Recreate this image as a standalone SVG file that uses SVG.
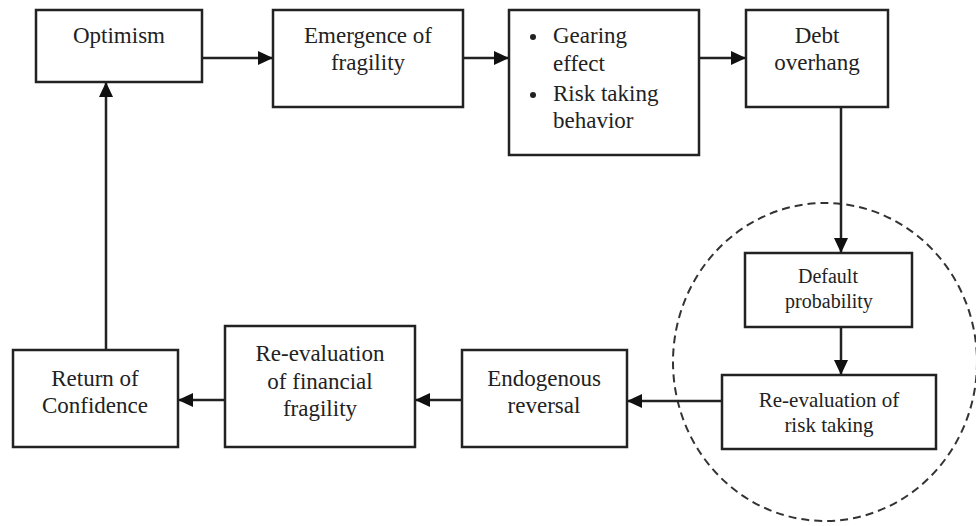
<svg xmlns="http://www.w3.org/2000/svg" width="976" height="526" viewBox="0 0 976 526">
<style>
  .box { fill: #fff; stroke: #222; stroke-width: 2.5; }
  .t { font-family: "Liberation Serif", "Times New Roman", serif; fill: #222; text-anchor: middle; font-size: 23px; }
  .ts { font-family: "Liberation Serif", "Times New Roman", serif; fill: #222; text-anchor: middle; font-size: 20px; }
  .tl { font-family: "Liberation Serif", "Times New Roman", serif; fill: #222; text-anchor: start; font-size: 23px; }
  .c { stroke: #222; stroke-width: 2.5; fill: none; marker-end: url(#ah); }
</style>
<defs>
  <marker id="ah" markerUnits="userSpaceOnUse" markerWidth="16" markerHeight="14" refX="15" refY="7" orient="auto">
    <path d="M0,0 L15,7 L0,14 z" fill="#111"/>
  </marker>
</defs>
<rect width="976" height="526" fill="#fff"/>
<ellipse cx="825" cy="362" rx="152" ry="159" fill="none" stroke="#333" stroke-width="2" stroke-dasharray="8 5"/>
<g id="connectors">
  <line class="c" x1="202" y1="58" x2="273" y2="58"/>
  <line class="c" x1="463" y1="58" x2="509" y2="58"/>
  <line class="c" x1="699" y1="58" x2="746" y2="58"/>
  <line class="c" x1="841" y1="107" x2="841" y2="253"/>
  <line class="c" x1="841" y1="327" x2="841" y2="375"/>
  <line class="c" x1="722" y1="401" x2="627" y2="401"/>
  <line class="c" x1="462" y1="400" x2="415" y2="400"/>
  <line class="c" x1="225" y1="400" x2="178" y2="400"/>
  <line class="c" x1="106" y1="350" x2="106" y2="82"/>
</g>
<g id="optimism">
  <rect class="box" x="36" y="10" width="166" height="72"/>
  <text class="t" x="119" y="43">Optimism</text>
</g>
<g id="emergence">
  <rect class="box" x="273" y="10" width="190" height="97"/>
  <text class="t" x="368" y="43">Emergence of</text>
  <text class="t" x="368" y="70">fragility</text>
</g>
<g id="gearing">
  <rect class="box" x="509" y="10" width="190" height="145"/>
  <circle cx="533" cy="37" r="3" fill="#222"/>
  <text class="tl" x="553" y="43">Gearing</text>
  <text class="tl" x="553" y="71">effect</text>
  <circle cx="533" cy="95" r="3" fill="#222"/>
  <text class="tl" x="553" y="101">Risk taking</text>
  <text class="tl" x="553" y="128">behavior</text>
</g>
<g id="debt">
  <rect class="box" x="746" y="10" width="142" height="97"/>
  <text class="t" x="817" y="43">Debt</text>
  <text class="t" x="817" y="70">overhang</text>
</g>
<g id="default">
  <rect class="box" x="745" y="253" width="167" height="74"/>
  <text class="ts" x="828" y="283">Default</text>
  <text class="ts" x="829" y="308">probability</text>
</g>
<g id="reeval-risk">
  <rect class="box" x="722" y="375" width="214" height="74"/>
  <text class="t" x="829" y="407" style="font-size:21px">Re-evaluation of</text>
  <text class="t" x="829" y="432" style="font-size:21px">risk taking</text>
</g>
<g id="endogenous">
  <rect class="box" x="462" y="350" width="165" height="97"/>
  <text class="t" x="544" y="386">Endogenous</text>
  <text class="t" x="544" y="413">reversal</text>
</g>
<g id="reeval-fin">
  <rect class="box" x="225" y="326" width="190" height="121"/>
  <text class="t" x="320" y="361">Re-evaluation</text>
  <text class="t" x="320" y="389">of financial</text>
  <text class="t" x="320" y="416">fragility</text>
</g>
<g id="return">
  <rect class="box" x="13" y="350" width="165" height="97"/>
  <text class="t" x="95" y="386">Return of</text>
  <text class="t" x="95" y="413">Confidence</text>
</g>
</svg>
